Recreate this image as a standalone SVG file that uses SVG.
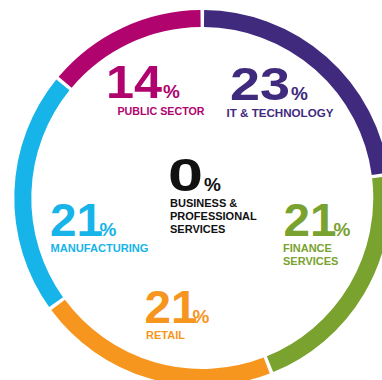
<svg xmlns="http://www.w3.org/2000/svg" width="382" height="380" viewBox="0 0 382 380">
<style>
.seg{fill:none;stroke-width:17}
text{font-family:"Liberation Sans",Arial,sans-serif;font-weight:bold}
.num{font-size:46px}
.pct{font-size:19px}
.lbl{font-size:11px}
</style>
<rect width="382" height="380" fill="#ffffff"/>
<g id="ring">
<path class="seg" stroke="#3F2A7E" d="M204.05,18.51 A179.5,179.5 0 0 1 380.16,173.76"/>
<path class="seg" stroke="#79A22F" d="M380.60,177.24 A179.5,179.5 0 0 1 270.01,364.24"/>
<path class="seg" stroke="#F7961E" d="M266.74,365.53 A179.5,179.5 0 0 1 58.11,304.93"/>
<path class="seg" stroke="#16B4E9" d="M56.05,302.09 A179.5,179.5 0 0 1 62.88,84.94"/>
<path class="seg" stroke="#B0036E" d="M65.12,82.24 A179.5,179.5 0 0 1 200.55,18.51"/>
</g>
<g id="public-sector" fill="#B0036E">
<text><tspan class="num" x="106" y="98" textLength="56" lengthAdjust="spacingAndGlyphs">14</tspan><tspan class="pct" x="163" y="98">%</tspan><tspan class="lbl" x="117.5" y="115" textLength="87" lengthAdjust="spacingAndGlyphs">PUBLIC SECTOR</tspan></text>
</g>
<g id="it-technology" fill="#3F2A7E">
<text><tspan class="num" x="230" y="100" textLength="60" lengthAdjust="spacingAndGlyphs">23</tspan><tspan class="pct" x="291" y="100">%</tspan><tspan class="lbl" x="226.5" y="117.3" textLength="107" lengthAdjust="spacingAndGlyphs">IT &amp; TECHNOLOGY</tspan></text>
</g>
<g id="business-professional" fill="#111111">
<text><tspan class="num" x="168" y="191" textLength="35" lengthAdjust="spacingAndGlyphs">0</tspan><tspan class="pct" x="204" y="191">%</tspan><tspan class="lbl" x="170" y="207.3">BUSINESS &amp;</tspan><tspan class="lbl" x="170" y="220">PROFESSIONAL</tspan><tspan class="lbl" x="170" y="232.7">SERVICES</tspan></text>
</g>
<g id="manufacturing" fill="#16B4E9">
<text><tspan class="num" x="50" y="236" textLength="53" lengthAdjust="spacingAndGlyphs">21</tspan><tspan class="pct" x="99.5" y="236">%</tspan><tspan class="lbl" x="50.5" y="252.3" textLength="98" lengthAdjust="spacingAndGlyphs">MANUFACTURING</tspan></text>
</g>
<g id="finance-services" fill="#79A22F">
<text><tspan class="num" x="283.5" y="235.7" textLength="53" lengthAdjust="spacingAndGlyphs">21</tspan><tspan class="pct" x="333.5" y="235.7">%</tspan><tspan class="lbl" x="283" y="252.3">FINANCE</tspan><tspan class="lbl" x="283" y="265">SERVICES</tspan></text>
</g>
<g id="retail" fill="#F7961E">
<text><tspan class="num" x="144.5" y="322.7" textLength="53" lengthAdjust="spacingAndGlyphs">21</tspan><tspan class="pct" x="192.5" y="322.7">%</tspan><tspan class="lbl" x="146" y="339">RETAIL</tspan></text>
</g>
</svg>
